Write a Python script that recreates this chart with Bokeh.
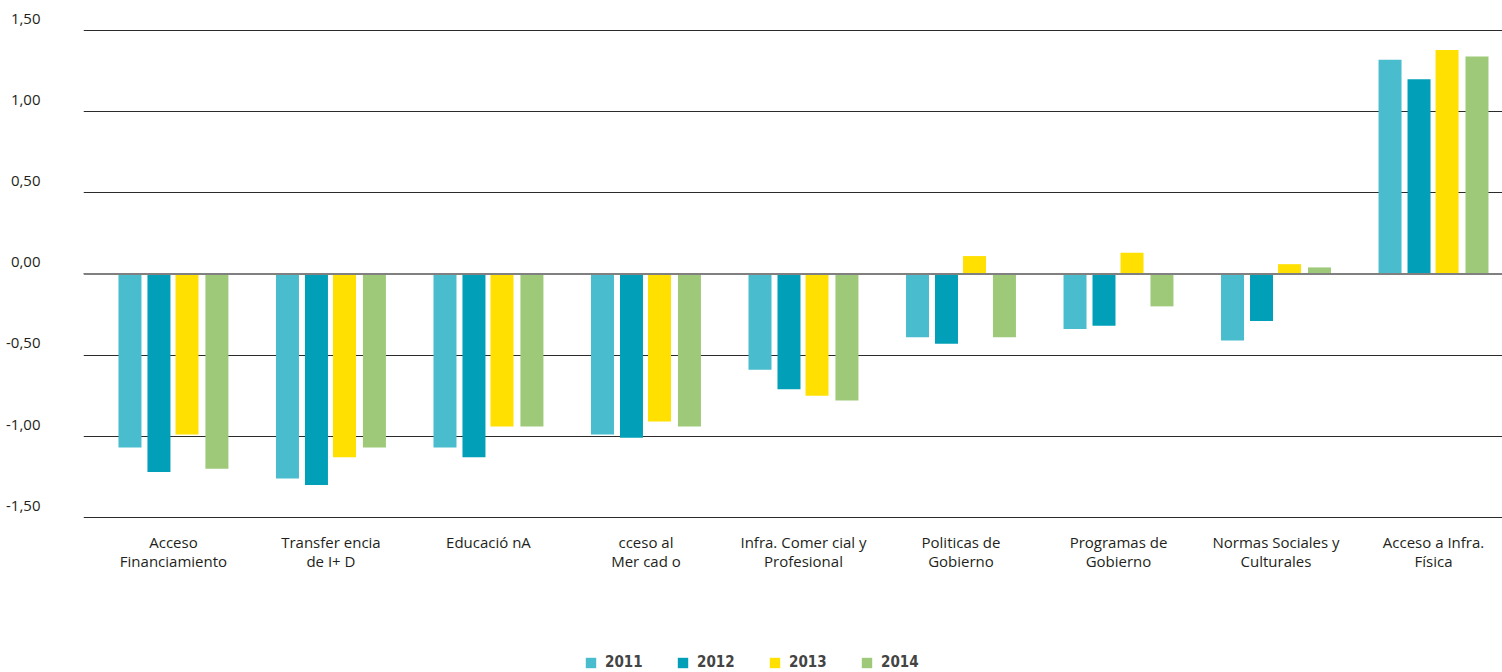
from bokeh.plotting import figure
from bokeh.models import (Range1d, FixedTicker, Legend, LegendItem, Span, ColumnDataSource)
from bokeh.core.properties import value
from bokeh.embed import file_html
from bokeh.resources import INLINE

categories = [
    "Acceso\nFinanciamiento",
    "Transfer encia\nde I+ D",
    "Educació nA",
    "cceso al\nMer cad o",
    "Infra. Comer cial y\nProfesional",
    "Politicas de\nGobierno",
    "Programas de\nGobierno",
    "Normas Sociales y\nCulturales",
    "Acceso a Infra.\nFísica",
]
years = ["2011", "2012", "2013", "2014"]
v2011 = [-1.07, -1.26, -1.07, -0.99, -0.59, -0.39, -0.34, -0.41, 1.32]
v2012 = [-1.22, -1.30, -1.13, -1.01, -0.71, -0.43, -0.32, -0.29, 1.20]
v2013 = [-0.99, -1.13, -0.94, -0.91, -0.75, 0.11, 0.13, 0.06, 1.38]
v2014 = [-1.20, -1.07, -0.94, -0.94, -0.78, -0.39, -0.20, 0.04, 1.34]
colors = ["#49BDCD", "#02A0B8", "#FFE000", "#9EC979"]
y_ticks = [-1.5, -1.0, -0.5, 0.0, 0.5, 1.0, 1.5]
y_tick_labels = ["-1,50", "-1,00", "-0,50", "0,00", "0,50", "1,00", "1,50"]

series = [v2011, v2012, v2013, v2014]
n = len(categories)
xs = list(range(n))

# tick labels sit a little above their gridlines
label_lift = 0.072
label_ticks = [t + label_lift for t in y_ticks]
# category labels are set just under the lowest gridline
cat_label_y = -1.593

p = figure(width=1502, height=672, output_backend="svg", toolbar_location=None,
           x_range=Range1d(-0.571, n - 1 + 0.438), y_range=Range1d(-2.456, 1.58),
           min_border_left=83, min_border_right=0, min_border_top=17,
           min_border_bottom=0)
p.outline_line_color = None
p.background_fill_color = "white"
p.border_fill_color = "white"

offsets = [-0.276, -0.092, 0.086, 0.276]
renderers = []
for vals, off, col in zip(series, offsets, colors):
    r = p.vbar(x=[i + off for i in xs], top=vals, bottom=0, width=0.146,
               fill_color=col, line_color=None)
    renderers.append(r)

# grid
p.xgrid.grid_line_color = None
p.ygrid.ticker = FixedTicker(ticks=y_ticks)
p.ygrid.grid_line_color = "#2b2b2b"
p.ygrid.grid_line_width = 1.2

# y axis
p.yaxis.ticker = FixedTicker(ticks=label_ticks)
p.yaxis.major_label_overrides = {t: l for t, l in zip(label_ticks, y_tick_labels)}
p.yaxis.axis_line_color = None
p.yaxis.major_tick_line_color = None
p.yaxis.minor_tick_line_color = None
p.yaxis.major_label_standoff = 37
p.yaxis.major_label_text_font = "Open Sans"
p.yaxis.major_label_text_font_size = "15px"
p.yaxis.major_label_text_color = "#231F20"

# x axis: category labels drawn as text under the plot
p.xaxis.visible = False
cat_src = ColumnDataSource(dict(x=xs, y=[cat_label_y] * n, text=categories))
p.text(x="x", y="y", text="text", source=cat_src, text_align="center",
       text_baseline="top", text_font=value("Open Sans"), text_font_size="15px",
       text_line_height=0.95, text_color="#231F20")

zero = Span(location=0, dimension="width", line_color="#808080", line_width=2)
p.add_layout(zero)

legend = Legend(items=[LegendItem(label=y, renderers=[r]) for y, r in zip(years, renderers)],
                orientation="horizontal", location=(501, 1))
legend.glyph_width = 13
legend.glyph_height = 13
legend.label_standoff = 8
legend.label_width = 71
legend.spacing = 0
legend.padding = 0
legend.margin = 0
legend.border_line_color = None
legend.background_fill_alpha = 0
legend.label_text_font = "DejaVu Sans Condensed"
legend.label_text_font_style = "bold"
legend.label_text_font_size = "15px"
legend.label_text_color = "#444444"
p.add_layout(legend, "center")

open("out.html", "w").write(file_html(p, INLINE))
